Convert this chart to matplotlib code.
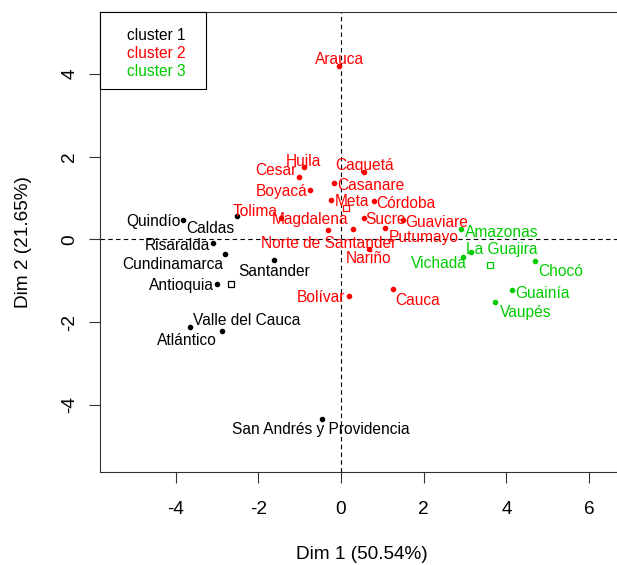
import matplotlib.pyplot as plt
import numpy as np
from matplotlib.patches import Rectangle

plt.rcParams["font.family"] = ["Liberation Sans", "DejaVu Sans"]
plt.rcParams["axes.unicode_minus"] = False

# coordenadas de los departamentos en el plano factorial (Dim 1, Dim 2)
names_c1 = ["Quindío", "Caldas", "Risaralda", "Cundinamarca", "Santander",
            "Antioquia", "Valle del Cauca", "Atlántico", "San Andrés y Providencia"]
dim1_c1 = [-3.83, -2.51, -3.09, -2.80, -1.62, -3.01, -3.65, -2.88, -0.47]
dim2_c1 = [0.46, 0.56, -0.10, -0.35, -0.51, -1.09, -2.13, -2.21, -4.33]

names_c2 = ["Arauca", "Huila", "Cesar", "Boyacá", "Caquetá", "Casanare", "Meta",
            "Córdoba", "Tolima", "Magdalena", "Sucre", "Guaviare", "Putumayo",
            "Norte de Santander", "Nariño", "Bolívar", "Cauca"]
dim1_c2 = [-0.04, -0.89, -1.01, -0.74, 0.56, -0.16, -0.24, 0.79, -1.44, 0.29,
           0.56, 1.51, 1.06, -0.31, 0.68, 0.20, 1.26]
dim2_c2 = [4.19, 1.75, 1.51, 1.18, 1.62, 1.35, 0.95, 0.92, 0.51, 0.24,
           0.52, 0.46, 0.27, 0.22, -0.23, -1.38, -1.20]

names_c3 = ["Amazonas", "La Guajira", "Vichada", "Chocó", "Guainía", "Vaupés"]
dim1_c3 = [2.89, 3.14, 2.96, 4.70, 4.14, 3.72]
dim2_c3 = [0.26, -0.30, -0.43, -0.52, -1.23, -1.52]

cluster_labels = ["cluster 1", "cluster 2", "cluster 3"]
colors = ["black", "#FF0000", "#00CD00"]

# desplazamiento de cada etiqueta respecto a su punto, en pixeles (dx, dy)
label_offsets = {
    "Quindío": (-29, -1), "Caldas": (-27, -12), "Risaralda": (-36, -2),
    "Cundinamarca": (-53, -11), "Santander": (0, -11), "Antioquia": (-35, -1),
    "Valle del Cauca": (57, 7), "Atlántico": (-35, -10),
    "San Andrés y Providencia": (-1, -11),
    "Arauca": (0, 6), "Huila": (-1, 5), "Cesar": (-23, 6), "Boyacá": (-29, -1),
    "Caquetá": (0, 7), "Casanare": (36, -2), "Meta": (21, -2), "Córdoba": (32, -2),
    "Tolima": (-26, 7), "Magdalena": (-43, 10), "Sucre": (21, -2),
    "Guaviare": (33, -2), "Putumayo": (39, -9), "Norte de Santander": (0, -13),
    "Nariño": (-1, -10), "Bolívar": (-28, -1), "Cauca": (24, -12),
    "Amazonas": (41, -4), "La Guajira": (31, 2), "Vichada": (-25, -6),
    "Chocó": (25, -11), "Guainía": (30, -3), "Vaupés": (31, -10),
}

groups = [
    (names_c1, dim1_c1, dim2_c1),
    (names_c2, dim1_c2, dim2_c2),
    (names_c3, dim1_c3, dim2_c3),
]

fig = plt.figure(figsize=(6.17, 5.65), dpi=100)
ax = fig.add_axes([100 / 617, 93 / 565, 523 / 617, 460 / 565])

ax.axhline(0, color="black", lw=0.8, ls=(0, (4, 3)), zorder=1)
ax.axvline(0, color="black", lw=0.8, ls=(0, (4, 3)), zorder=1)

for (names, xs, ys), col in zip(groups, colors):
    ax.plot(xs, ys, "o", ms=3, color=col, zorder=3)
    # centro del cluster
    ax.plot(np.mean(xs), np.mean(ys), "s", ms=5, mfc="none", mec=col,
            mew=0.9, zorder=3)
    for name, x, y in zip(names, xs, ys):
        dx, dy = label_offsets[name]
        ax.annotate(name, (x, y), xytext=(dx, dy), textcoords="offset pixels",
                    ha="center", va="center", fontsize=11.2, color=col,
                    zorder=4)

ax.set_xlim(-5.83, 6.82)
ax.set_ylim(-5.62, 5.49)
ax.set_xticks([-4, -2, 0, 2, 4, 6])
ax.set_yticks([-4, -2, 0, 2, 4])
ax.tick_params(direction="out", length=8, width=0.8, labelsize=13.7,
               color="#333333")
ax.tick_params(axis="x", pad=13)
ax.tick_params(axis="y", pad=7.5)
for lab in ax.get_yticklabels():
    lab.set_rotation(90)
    lab.set_va("center")

for sp in ax.spines.values():
    sp.set_linewidth(0.8)
    sp.set_color("#333333")

ax.set_xlabel("Dim 1 (50.54%)", fontsize=13.7, labelpad=20)
ax.set_ylabel("Dim 2 (21.65%)", fontsize=13.7, labelpad=21)

# leyenda en la esquina superior izquierda
ax.add_patch(Rectangle((0, 0.832), 0.2027, 0.168, transform=ax.transAxes,
                       facecolor="white", edgecolor="black", lw=0.8,
                       zorder=5, clip_on=False))
for i, (lab, col) in enumerate(zip(cluster_labels, colors)):
    ax.text(0.0522, 0.95 - 0.04 * i, lab, transform=ax.transAxes,
            ha="left", va="center", fontsize=11.2, color=col, zorder=6)

fig.savefig("out.png", dpi=100)
